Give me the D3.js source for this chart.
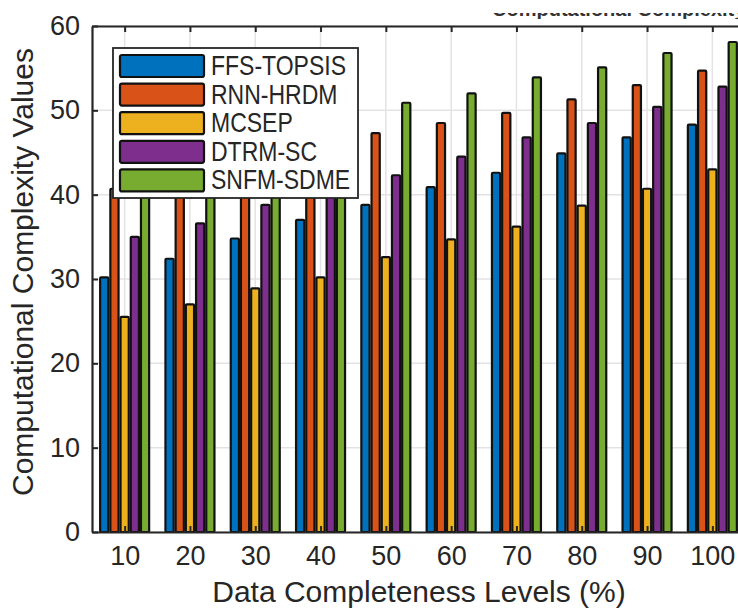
<!DOCTYPE html>
<html>
<head>
<meta charset="utf-8">
<script src="https://cdn.jsdelivr.net/npm/d3@7"></script>
<style>
  body { margin: 0; background: #fff; overflow: hidden; }
  svg { display: block; font-family: "Liberation Sans", Arial, sans-serif; }
</style>
</head>
<body>
<div id="chart"></div>
<script>
// ---- data
var levels = [10, 20, 30, 40, 50, 60, 70, 80, 90, 100];
var seriesNames = ["FFS-TOPSIS", "RNN-HRDM", "MCSEP", "DTRM-SC", "SNFM-SDME"];
var ffsTopsis = [30.2, 32.4, 34.8, 37.0, 38.8, 40.9, 42.6, 44.9, 46.8, 48.3];
var rnnHrdm   = [40.7, 42.4, 44.1, 45.8, 47.3, 48.5, 49.7, 51.3, 53.0, 54.7];
var mcsep     = [25.5, 27.0, 28.9, 30.2, 32.6, 34.7, 36.2, 38.7, 40.7, 43.0];
var dtrmSc    = [35.0, 36.6, 38.8, 40.7, 42.3, 44.5, 46.8, 48.5, 50.4, 52.8];
var snfmSdme  = [45.2, 46.6, 47.9, 49.4, 50.9, 52.0, 53.9, 55.1, 56.8, 58.1];
var yTicks = [0, 10, 20, 30, 40, 50, 60];

var colors = ["#0072BD", "#D95319", "#EDB120", "#7E2F8E", "#77AC30"];
var allSeries = [ffsTopsis, rnnHrdm, mcsep, dtrmSc, snfmSdme];

var W = 738, H = 608;
var mLeft = 92, mTop = 26, mBottom = 532, mRight = 745;
var axisColor = "#262626";

var svg = d3.select("#chart").append("svg")
    .attr("width", W)
    .attr("height", H);

var x = d3.scaleLinear().domain([5, 105]).range([mLeft, mRight]);
var y = d3.scaleLinear().domain([0, 60]).range([mBottom, mTop]);
var inner = d3.scaleBand().domain(seriesNames).range([-25.5, 25.5]);

// title, cropped away at the top of the source image
svg.append("clipPath")
    .attr("id", "titleClip")
    .append("rect")
    .attr("x", 0).attr("y", 13)
    .attr("width", W).attr("height", 6);

svg.append("text")
    .attr("clip-path", "url(#titleClip)")
    .attr("x", 492)
    .attr("y", 16)
    .attr("font-size", 20)
    .attr("font-weight", "bold")
    .attr("fill", "#333")
    .text("Computational Complexity");

// grid
var grid = svg.append("g").attr("class", "grid");
yTicks.forEach(function(t) {
    grid.append("line")
        .attr("x1", mLeft).attr("x2", mRight)
        .attr("y1", y(t)).attr("y2", y(t))
        .attr("stroke", "#e3e3e3").attr("stroke-width", 1.5);
});
levels.forEach(function(l) {
    grid.append("line")
        .attr("x1", x(l)).attr("x2", x(l))
        .attr("y1", mTop).attr("y2", mBottom)
        .attr("stroke", "#e3e3e3").attr("stroke-width", 1.5);
});

// bars
var bars = svg.append("g").attr("class", "bars");
allSeries.forEach(function(vals, s) {
    bars.selectAll(".s" + s)
        .data(vals)
        .enter().append("rect")
        .attr("class", "s" + s)
        .attr("x", function(d, i) { return x(levels[i]) + inner(seriesNames[s]) + 1; })
        .attr("width", inner.bandwidth() - 2)
        .attr("y", function(d) { return y(d); })
        .attr("height", function(d) { return y(0) - y(d); })
        .attr("rx", 1)
        .attr("fill", colors[s])
        .attr("stroke", "#111")
        .attr("stroke-width", 2.2);
});

// axes
var xAxis = d3.axisBottom(x).tickValues(levels).tickSize(-6).tickPadding(14).tickSizeOuter(0);
var gx = svg.append("g")
    .attr("transform", "translate(0," + mBottom + ")")
    .call(xAxis);
var xTop = d3.axisTop(x).tickValues(levels).tickSize(-6).tickFormat("").tickSizeOuter(0);
var gxt = svg.append("g")
    .attr("transform", "translate(0," + mTop + ")")
    .call(xTop);
var yAxis = d3.axisLeft(y).tickValues(yTicks).tickSize(-6).tickPadding(12).tickSizeOuter(0);
var gy = svg.append("g")
    .attr("transform", "translate(" + mLeft + ",0)")
    .call(yAxis);

[gx, gxt, gy].forEach(function(g) {
    g.select(".domain").attr("stroke", axisColor).attr("stroke-width", 2.2);
    g.selectAll(".tick line").attr("stroke", axisColor).attr("stroke-width", 2);
    g.selectAll(".tick text")
        .attr("fill", axisColor)
        .attr("font-size", 27)
        .attr("font-family", "Liberation Sans, Arial, sans-serif");
});

// labels
svg.append("text")
    .attr("x", 419)
    .attr("y", 602)
    .attr("text-anchor", "middle")
    .attr("font-size", 30)
    .attr("fill", axisColor)
    .text("Data Completeness Levels (%)");

svg.append("text")
    .attr("transform", "translate(33,272) rotate(-90)")
    .attr("text-anchor", "middle")
    .attr("font-size", 30)
    .attr("fill", axisColor)
    .text("Computational Complexity Values");

// legend
var legend = svg.append("g")
    .attr("class", "legend")
    .attr("transform", "translate(113,48)");

legend.append("rect")
    .attr("width", 245)
    .attr("height", 150)
    .attr("fill", "#fff")
    .attr("stroke", axisColor)
    .attr("stroke-width", 1.8);

seriesNames.forEach(function(name, i) {
    var row = legend.append("g")
        .attr("transform", "translate(0," + (7 + i * 28.6) + ")");
    row.append("rect")
        .attr("x", 7)
        .attr("y", 0)
        .attr("width", 84)
        .attr("height", 22)
        .attr("rx", 2)
        .attr("fill", colors[i])
        .attr("stroke", "#111")
        .attr("stroke-width", 2.2);
    row.append("text")
        .attr("transform", "translate(98,20) scale(1,1.2)")
        .attr("font-size", 23)
        .attr("fill", axisColor)
        .text(name);
});
</script>
</body>
</html>
